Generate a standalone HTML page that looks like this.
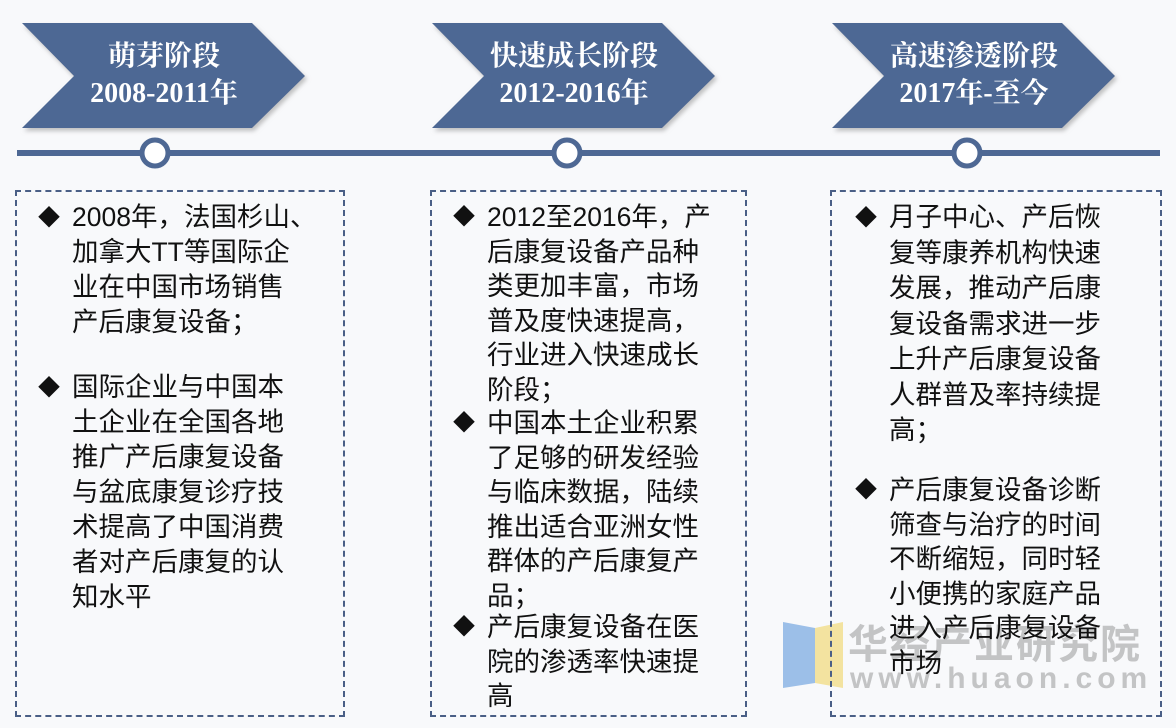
<!DOCTYPE html>
<html><head><meta charset="utf-8"><style>
body{margin:0;width:1176px;height:728px;background:#f8f9fb;position:relative;overflow:hidden;font-family:"Liberation Sans","Noto Sans CJK SC",sans-serif}
.t{position:absolute;color:#fff;font-family:"Liberation Serif","Noto Serif CJK SC",serif;font-weight:bold;font-size:28px;text-align:center;line-height:37px;width:240px}
.box{position:absolute;border:2px dashed #4a5f86;top:190px;height:523px}
.p{position:absolute;font-size:26.5px;line-height:35px;color:#111;margin:0}
.p span{position:absolute;left:-34px;font-size:22px}
.wm{position:absolute;color:rgba(130,130,130,.45);font-weight:bold}
</style></head><body>
<svg width="1176" height="728" style="position:absolute;left:0;top:0">
<defs><filter id="s"><feDropShadow dx="2" dy="3" stdDeviation="2" flood-color="#999" flood-opacity=".6"/></filter></defs>
<g fill="#4e6894" filter="url(#s)">
<polygon points="22,23 252,23 305,76 252,128 22,128 74,76"/>
<polygon points="432,23 662,23 715,76 662,128 432,128 484,76"/>
<polygon points="832,23 1062,23 1115,76 1062,128 832,128 884,76"/>
</g>
<line x1="17" y1="153" x2="1160" y2="153" stroke="#4e6894" stroke-width="6"/>
<g fill="#fff" stroke="#4e6894" stroke-width="5">
<circle cx="155" cy="153" r="13"/><circle cx="567" cy="153" r="13"/><circle cx="967" cy="153" r="13"/>
</g>
<polygon points="783,622 815,628 815,683 783,688" fill="#9cbfe8"/>
<polygon points="815,628 843,622 843,688 815,683" fill="#f3e3a0"/>
</svg>
<div class="t" style="left:44px;top:38px">萌芽阶段<br>2008-2011年</div>
<div class="t" style="left:454px;top:38px">快速成长阶段<br>2012-2016年</div>
<div class="t" style="left:854px;top:38px">高速渗透阶段<br>2017年-至今</div>
<div class="box" style="left:15px;width:326px"></div>
<div class="box" style="left:430px;width:313px"></div>
<div class="box" style="left:830px;width:328px"></div>
<div class="wm" style="left:848px;top:612px;font-size:40px;letter-spacing:2px">华经产业研究院</div>
<div class="wm" style="left:850px;top:662px;font-size:30px;letter-spacing:5px">www.huaon.com</div>
<p class="p" style="left:72px;top:200px"><span>◆</span>2008年，法国杉山、<br>加拿大TT等国际企<br>业在中国市场销售<br>产后康复设备；</p>
<p class="p" style="left:72px;top:370px"><span>◆</span>国际企业与中国本<br>土企业在全国各地<br>推广产后康复设备<br>与盆底康复诊疗技<br>术提高了中国消费<br>者对产后康复的认<br>知水平</p>
<p class="p" style="left:487px;top:200px;line-height:34.5px"><span>◆</span>2012至2016年，产<br>后康复设备产品种<br>类更加丰富，市场<br>普及度快速提高，<br>行业进入快速成长<br>阶段；</p>
<p class="p" style="left:487px;top:406px;line-height:34.5px"><span>◆</span>中国本土企业积累<br>了足够的研发经验<br>与临床数据，陆续<br>推出适合亚洲女性<br>群体的产后康复产<br>品；</p>
<p class="p" style="left:487px;top:610px;line-height:34.5px"><span>◆</span>产后康复设备在医<br>院的渗透率快速提<br>高</p>
<p class="p" style="left:889px;top:200px;line-height:35.5px"><span>◆</span>月子中心、产后恢<br>复等康养机构快速<br>发展，推动产后康<br>复设备需求进一步<br>上升产后康复设备<br>人群普及率持续提<br>高；</p>
<p class="p" style="left:889px;top:473px;line-height:34.5px"><span>◆</span>产后康复设备诊断<br>筛查与治疗的时间<br>不断缩短，同时轻<br>小便携的家庭产品<br>进入产后康复设备<br>市场</p>
</body></html>
